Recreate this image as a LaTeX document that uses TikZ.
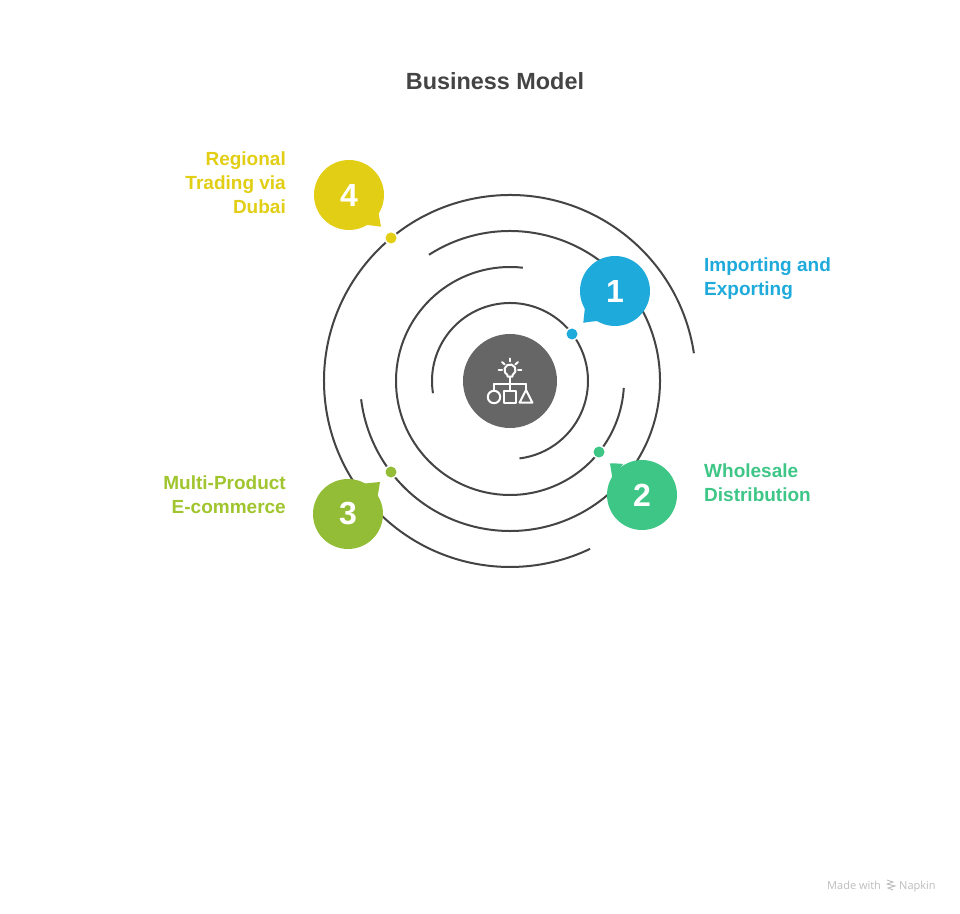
\documentclass[tikz,border=0pt]{standalone}
\usepackage{fontspec}
\setmainfont{Liberation Sans}
\newfontfamily\markfont{Open Sans}
\definecolor{cone}{HTML}{1EAADB}
\definecolor{ctwo}{HTML}{3EC687}
\definecolor{cthree}{HTML}{94BD37}
\definecolor{cfour}{HTML}{E2CE14}
\definecolor{tthree}{HTML}{A0C52E}
\definecolor{ringc}{HTML}{444444}
\definecolor{hubc}{HTML}{666666}
\definecolor{titlec}{HTML}{444444}
\definecolor{markc}{HTML}{BDBDBD}
\tikzset{
  ring/.style={draw=ringc,line width=2pt},
  hubnode/.style={circle,fill=hubc,minimum size=94pt,inner sep=0pt},
  badge/.style={circle,minimum size=70pt,inner sep=0pt,text=white,font=\bfseries\fontsize{32}{32}\selectfont},
  pin/.style={circle,minimum size=11pt,inner sep=0pt,preaction={draw=white,line width=3pt}},
  lbl/.style={font=\bfseries\fontsize{19}{24}\selectfont,inner sep=0pt},
  glyphline/.style={draw=white,line width=2pt,line cap=round,line join=round},
  markline/.style={draw=markc,line width=0.9pt}
}
\begin{document}
\begin{tikzpicture}[x=1pt,y=1pt]
\useasboundingbox (0,0) rectangle (960,913);
\fill[white] (0,0) rectangle (960,913);
\coordinate (c) at (510,532);
% rings
\draw[ring] ([shift={(189:78)}]c) arc[start angle=189,end angle=-83,radius=78];
\draw[ring] ([shift={(83.5:114)}]c) arc[start angle=83.5,end angle=356.5,radius=114];
\draw[ring] ([shift={(122.7:150)}]c) arc[start angle=122.7,end angle=-173,radius=150];
\draw[ring] ([shift={(8.6:186)}]c) arc[start angle=8.6,end angle=295.5,radius=186];
% hub
\node[hubnode] (hub) at (c) {};
% pins
\node[pin,fill=cone] (p1) at (572,579) {};
\node[pin,fill=ctwo] (p2) at (599,461) {};
\node[pin,fill=cthree] (p3) at (391,441) {};
\node[pin,fill=cfour] (p4) at (391,675) {};
% badges
\node[badge,fill=cone] (b1) at (615,622) {1};
\fill[cone] (583.3,590.2) -- (585,606) -- (598,592) .. controls (592,591.5) and (588,591) .. cycle;
\node[badge,fill=ctwo] (b2) at (642,418) {2};
\fill[ctwo] (610,449.7) -- (612.5,434) -- (623,449) .. controls (618,449.5) and (614,449.7) .. cycle;
\node[badge,fill=cthree] (b3) at (348,399) {3};
\fill[cthree] (380,431) -- (377.5,416) -- (365,429.5) .. controls (370,430) and (375,430.5) .. cycle;
\node[badge,fill=cfour] (b4) at (349,718) {4};
\fill[cfour] (381,686.3) -- (378.5,700) -- (367,688) .. controls (372,687.5) and (376,687) .. cycle;
% labels
\node[lbl,anchor=west,align=left,text=cone] (l1) at (704,634) {Importing and\\Exporting};
\node[lbl,anchor=west,align=left,text=ctwo] (l2) at (704,430) {Wholesale\\Distribution};
\node[lbl,anchor=east,align=right,text=tthree] (l3) at (286,418) {Multi-Product\\E-commerce};
\node[lbl,anchor=east,align=right,text=cfour] (l4) at (286,730) {Regional\\Trading via\\Dubai};
% title
\node[inner sep=0pt,text=titlec,font=\bfseries\fontsize{23.4}{28}\selectfont] (title) at (495,832) {Business Model};
% icon
\begin{scope}[shift={(hub.center)}]
  \draw[glyphline] ([shift={(-62:5.6)}]0,11) arc[start angle=-62,end angle=242,radius=5.6] -- (-2.4,4.4) -- (2.4,4.4) -- cycle;
  \draw[glyphline] (0,4.4) -- (0,-10);
  \draw[glyphline] (-16,-3) -- (16,-3);
  \draw[glyphline] (-16,-3) -- (-16,-9.6);
  \draw[glyphline] (16,-3) -- (16,-9);
  \draw[glyphline] (-16,-16) circle[radius=6.2];
  \draw[glyphline] (-5.8,-10) rectangle (5.8,-21.7);
  \draw[glyphline] (16,-9) -- (22.4,-21.7) -- (9.6,-21.7) -- cycle;
  \draw[glyphline] (0,19.5) -- (0,22.5);
  \draw[glyphline] (8,11.3) -- (11.4,11.3);
  \draw[glyphline] (-8,11.3) -- (-11.4,11.3);
  \draw[glyphline] (5.4,16.6) -- (8,19);
  \draw[glyphline] (-5.4,16.6) -- (-8,19);
\end{scope}
% watermark
\node[inner sep=0pt,anchor=base west,text=markc,font=\markfont\fontsize{11}{13}\selectfont] (m1) at (827,24) {Made with};
\node[inner sep=0pt,anchor=base west,text=markc,font=\markfont\fontsize{11}{13}\selectfont] (m2) at (899,24) {Napkin};
\draw[markline] (887,33) -- (893,31) -- (887,29) -- (895,27) -- (888,25) -- (893,23);
\end{tikzpicture}
\end{document}
